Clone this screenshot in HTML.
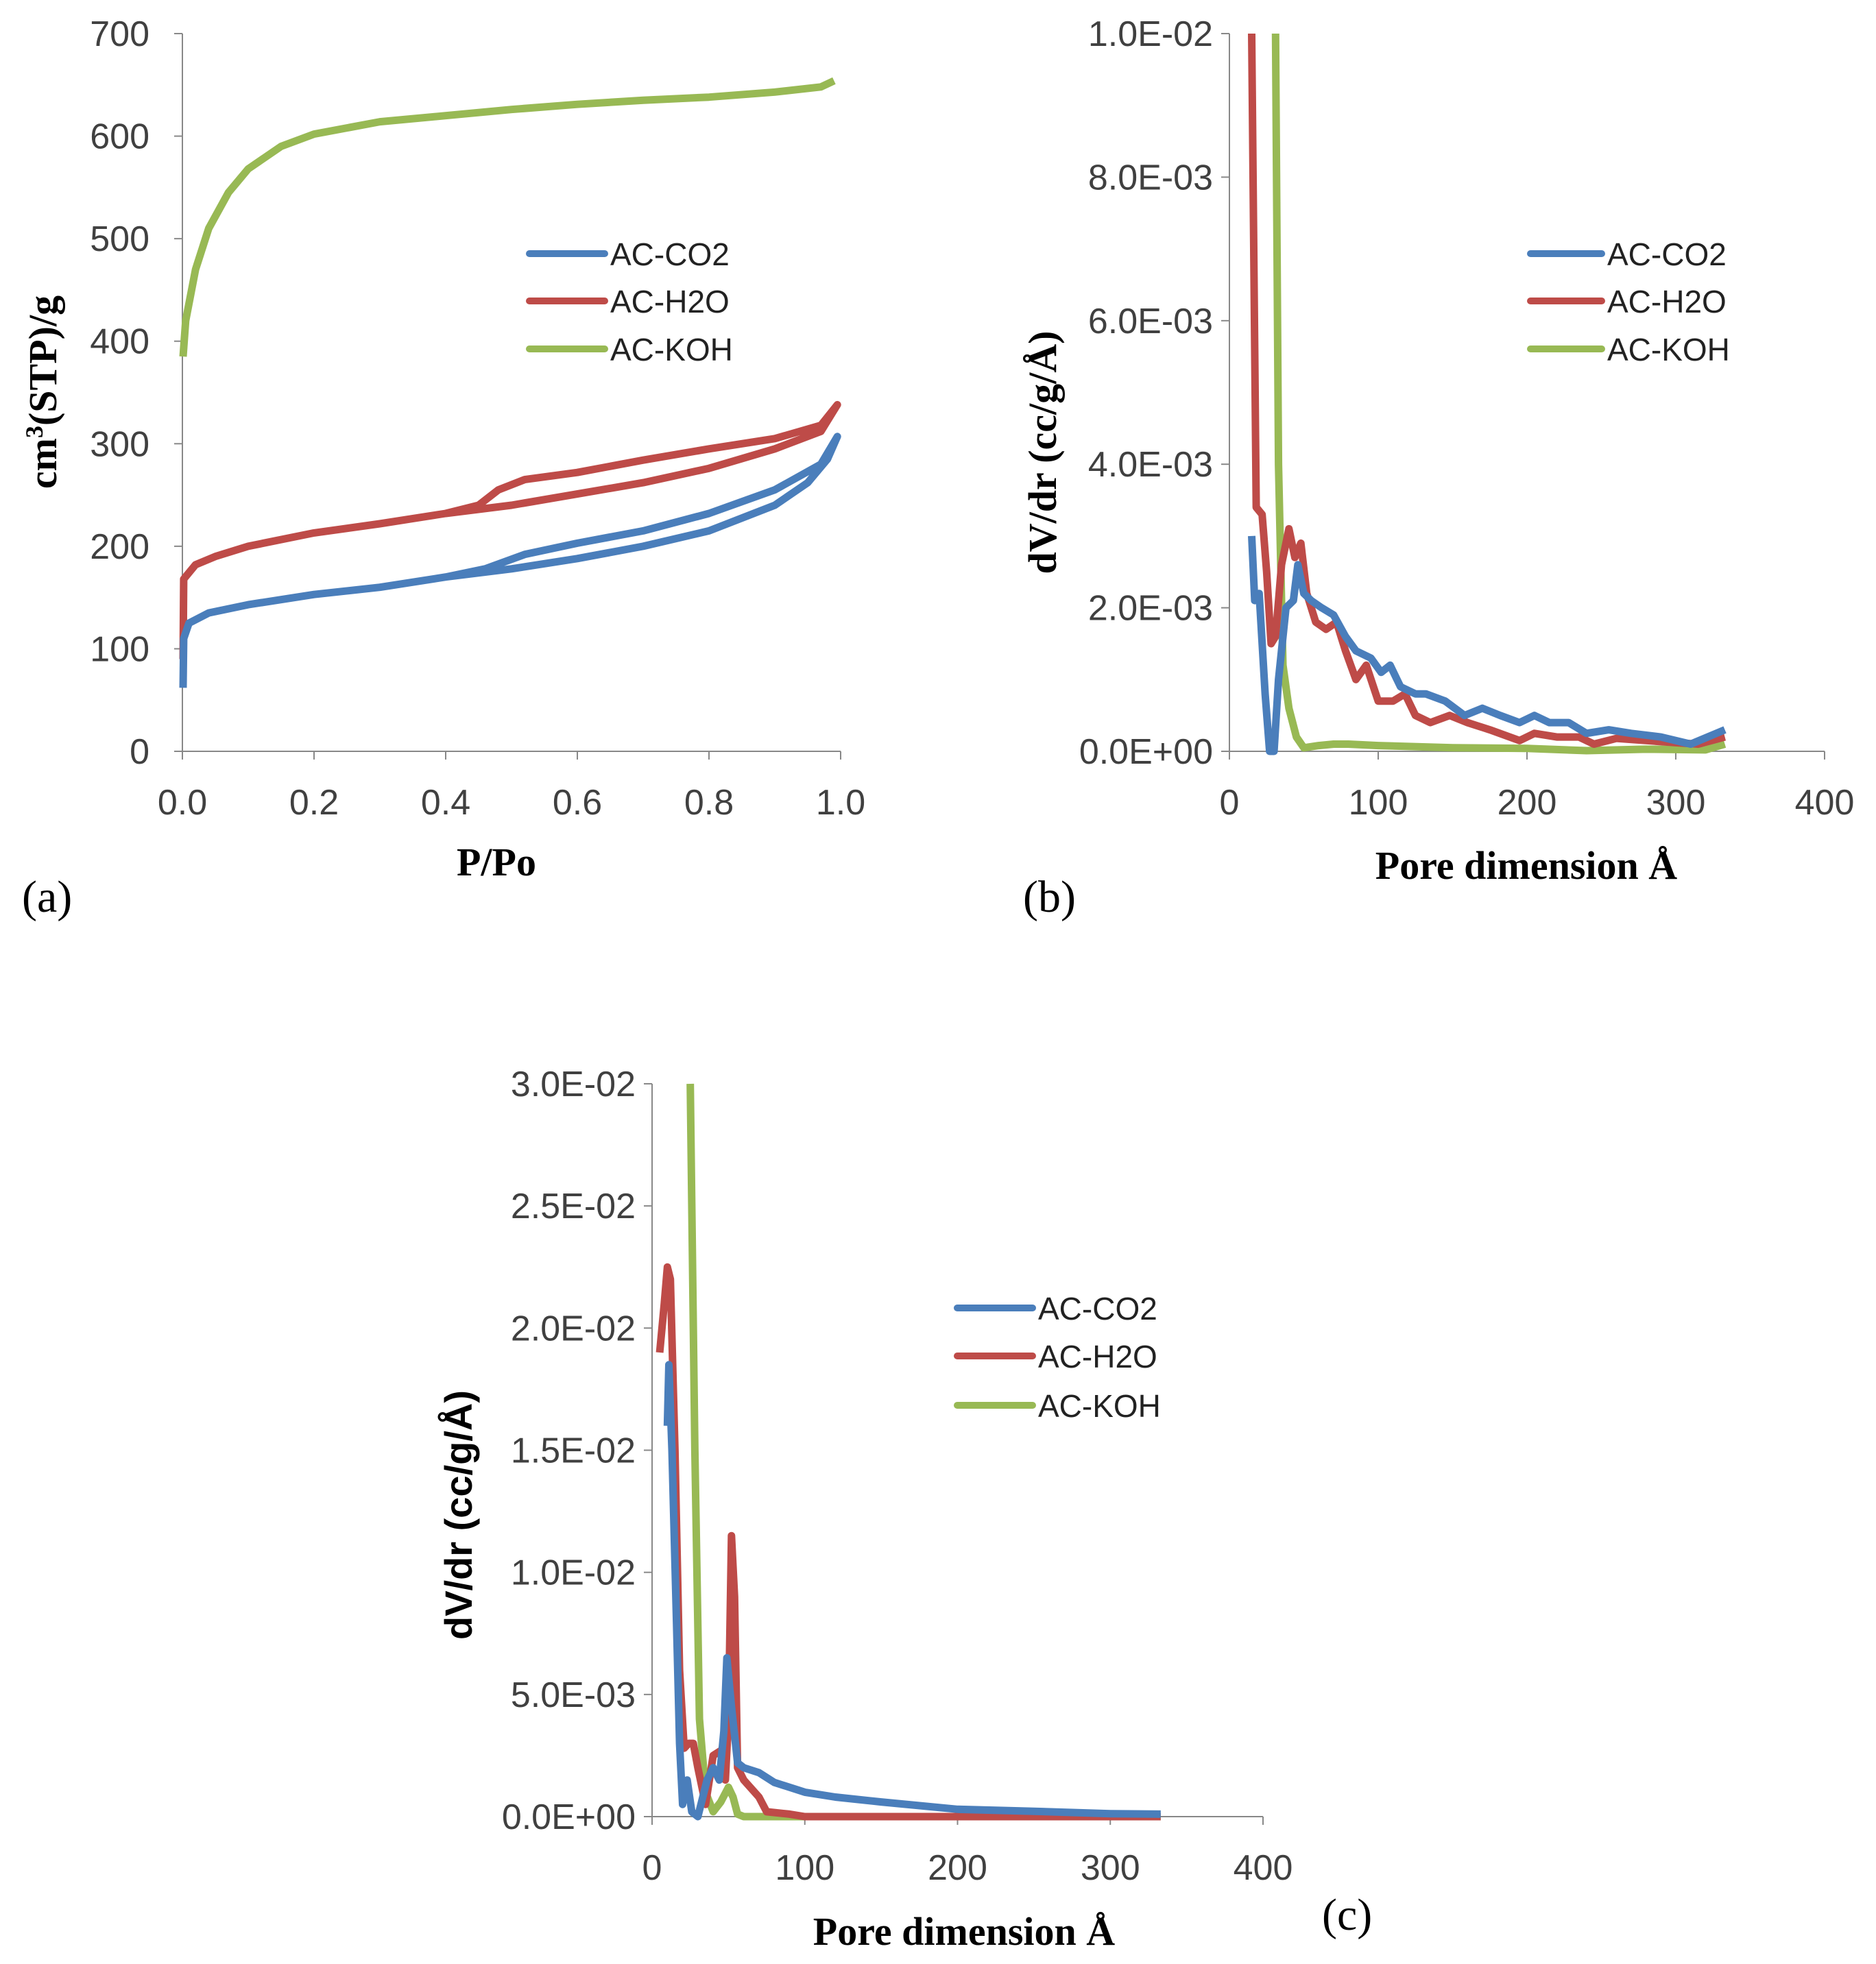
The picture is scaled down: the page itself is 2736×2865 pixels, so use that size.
<!DOCTYPE html>
<html><head><meta charset="utf-8">
<style>
html,body{margin:0;padding:0;background:#fff;}
svg{display:block;}
.tick{font-family:"Liberation Sans",sans-serif;font-size:52px;fill:#404040;}
.ttl{font-family:"Liberation Serif",serif;font-weight:bold;font-size:58px;fill:#000;}
.lbl{font-family:"Liberation Serif",serif;font-size:66px;fill:#000;}
.leg{font-family:"Liberation Sans",sans-serif;font-size:46px;fill:#222;}
</style></head>
<body>
<svg id="fig" width="2736" height="2865" viewBox="0 0 2736 2865" xmlns="http://www.w3.org/2000/svg">
<text class="lbl" x="32" y="1330">(a)</text>
<text class="lbl" x="1492" y="1330">(b)</text>
<text class="lbl" x="1928" y="2815">(c)</text>
</svg>
<script>
// Panel A data (isotherms)
const aKOHx=[0.001,0.005,0.02,0.04,0.07,0.1,0.15,0.2,0.3,0.4,0.5,0.6,0.7,0.8,0.9,0.97,0.99];
const aKOHy=[385,420,470,510,545,568,590,602,614,620,626,631,635,638,643,648,654];
const aCO2x=[0.001,0.002,0.01,0.04,0.1,0.2,0.3,0.4,0.5,0.6,0.7,0.8,0.9,0.95,0.98,0.995,0.97,0.9,0.8,0.7,0.6,0.52,0.46,0.4];
const aCO2y=[62,110,125,135,143,153,160,170,178,188,200,215,240,262,285,307,280,255,232,215,203,192,178,170];
const aH2Ox=[0.001,0.002,0.02,0.05,0.1,0.2,0.3,0.4,0.5,0.6,0.7,0.8,0.9,0.97,0.995,0.97,0.9,0.8,0.7,0.6,0.52,0.48,0.45,0.4];
const aH2Oy=[90,168,182,190,200,213,222,232,240,251,262,276,295,312,338,318,305,295,284,272,265,255,240,232];
const aXTicks=["0.0","0.2","0.4","0.6","0.8","1.0"];
const aYTicks=["0","100","200","300","400","500","600","700"];
// Panel B data
const bH2Ox=[15,18,22,25,28,31,35,40,44,48,52,58,65,72,78,85,92,100,110,118,125,135,148,160,175,195,205,220,235,245,260,280,300,315,333];
const bH2Oy=[0.01,0.0034,0.0033,0.0025,0.0015,0.0016,0.0026,0.0031,0.0027,0.0029,0.0022,0.0018,0.0017,0.0018,0.0014,0.001,0.0012,0.0007,0.0007,0.0008,0.0005,0.0004,0.0005,0.0004,0.0003,0.00015,0.00025,0.0002,0.0002,0.0001,0.00018,0.00015,0.00012,0.0001,0.0002];
const bCO2x=[15,17,20,24,27,30,33,38,43,46,50,55,62,70,78,85,95,102,108,115,125,132,145,158,170,182,195,205,215,228,240,255,270,290,310,333];
const bCO2y=[0.003,0.0021,0.0022,0.0008,0,0,0.001,0.002,0.0021,0.0026,0.0022,0.0021,0.002,0.0019,0.0016,0.0014,0.0013,0.0011,0.0012,0.0009,0.0008,0.0008,0.0007,0.0005,0.0006,0.0005,0.0004,0.0005,0.0004,0.0004,0.00025,0.0003,0.00025,0.0002,0.0001,0.0003];
const bKOHx=[31,33,36,40,45,50,60,70,80,100,150,200,240,280,320,333];
const bKOHy=[0.01,0.004,0.0012,0.0006,0.0002,0.00005,0.00008,0.0001,0.0001,0.00008,0.00005,0.00004,0.00001,0.00003,0.00002,0.0001];
const bYTicks=["0.0E+00","2.0E-03","4.0E-03","6.0E-03","8.0E-03","1.0E-02"];
const xTicks400=["0","100","200","300","400"];
// Panel C data
const cH2Ox=[5,8,10,12,15,18,21,24,27,30,35,40,45,48,50,52,54,56,60,70,75,90,100,333];
const cH2Oy=[0.019,0.021,0.0225,0.022,0.015,0.006,0.0028,0.003,0.003,0.002,0.0005,0.0025,0.0027,0.0015,0.004,0.0115,0.009,0.002,0.0015,0.0008,0.0002,0.0001,0,0];
const cCO2x=[10,11,13,16,18,20,23,26,30,36,40,44,47,49,52,56,60,70,80,100,120,150,200,250,300,333];
const cCO2y=[0.016,0.0185,0.015,0.008,0.003,0.0005,0.0015,0.0002,0,0.0015,0.002,0.0015,0.0035,0.0065,0.0045,0.0022,0.002,0.0018,0.0014,0.001,0.0008,0.0006,0.0003,0.00022,0.00012,0.0001];
const cKOHx=[25,28,31,35,40,45,50,53,56,60,333];
const cKOHy=[0.03,0.015,0.004,0.001,0.0002,0.0006,0.0012,0.0008,0.0001,0,0];
const cYTicks=["0.0E+00","5.0E-03","1.0E-02","1.5E-02","2.0E-02","2.5E-02","3.0E-02"];

const NS="http://www.w3.org/2000/svg";
const svg=document.getElementById('fig');
const BLUE="#4a7ebb",RED="#be4b48",GREEN="#98b954";
function mk(tag,attrs,parent){const e=document.createElementNS(NS,tag);for(const k in attrs)e.setAttribute(k,attrs[k]);(parent||svg).appendChild(e);return e;}

function panel(p){
  const g=mk('g',{});
  
  
  const sx=v=>p.x0+(v-p.xmin)/(p.xmax-p.xmin)*(p.x1-p.x0);
  const sy=v=>p.y0-(v-p.ymin)/(p.ymax-p.ymin)*(p.y0-p.y1);
  const ax=mk('line',{x1:p.x0,y1:p.y0,x2:p.x0,y2:p.y1,stroke:'#888','stroke-width':2},g);
  
  
  const bx=mk('line',{x1:p.x0,y1:p.y0,x2:p.x1,y2:p.y0,stroke:'#888','stroke-width':2},g);
  
  
  p.yt.forEach((t,i)=>{
    const v=p.ymin+i*(p.ymax-p.ymin)/(p.yt.length-1);const y=sy(v);
    mk('line',{x1:p.x0-12,y1:y,x2:p.x0,y2:y,stroke:'#888','stroke-width':2},g);
    const tx=mk('text',{x:p.x0-p.gap,y:y+18,'text-anchor':'end',class:'tick'},g);tx.textContent=t;
    
    
  });
  p.xt.forEach((t,i)=>{
    const v=p.xmin+i*(p.xmax-p.xmin)/(p.xt.length-1);const x=sx(v);
    mk('line',{x1:x,y1:p.y0,x2:x,y2:p.y0+12,stroke:'#888','stroke-width':2},g);
    const tx=mk('text',{x:x,y:p.y0+92,'text-anchor':'middle',class:'tick'},g);tx.textContent=t;
    
    
  });
  const xt=mk('text',{x:p.xtx,y:p.xty,'text-anchor':'middle',class:'ttl'},g);xt.innerHTML=p.xtitle;
  
  
  const yt=mk('text',{x:0,y:0,'text-anchor':'middle',class:'ttl',transform:`translate(${p.ytx},${p.yty}) rotate(-90)`,style:p.ystyle||''},g);yt.innerHTML=p.ytitle;
  
  
  const clip=mk('clipPath',{id:'c'+p.name},g);
  mk('rect',{x:p.x0-20,y:p.y1-4,width:p.x1-p.x0+40,height:p.y0-p.y1+24},clip);
  p.series.forEach(s=>{
    const d=s.x.map((v,i)=>(i?'L':'M')+sx(v).toFixed(1)+','+sy(s.y[i]).toFixed(1)).join(' ');
    const pa=mk('path',{d:d,fill:'none',stroke:s.c,'stroke-width':11,'stroke-linejoin':'round','clip-path':`url(#c${p.name})`},g);
    
    
  });
  const names=["AC-CO2","AC-H2O","AC-KOH"],cols=[BLUE,RED,GREEN];
  names.forEach((n,i)=>{
    const y=p.ly[i];
    const l=mk('line',{x1:p.lx0,y1:y,x2:p.lx1,y2:y,stroke:cols[i],'stroke-width':10,'stroke-linecap':'round'},g);
    
    
    const t=mk('text',{x:p.lx1+8,y:y+17,class:'leg'},g);t.textContent=n;
    
    
  });
}
panel({name:'chart-a',x0:266,x1:1226,y0:1096,y1:49,gap:48,xmin:0,xmax:1,ymin:0,ymax:700,xt:aXTicks,yt:aYTicks,
  xtitle:'P/Po',xtx:724,xty:1277,ytitle:'cm<tspan baseline-shift="super" font-size="36">3</tspan>(STP)/g',ytx:82,yty:572,
  series:[{x:aKOHx,y:aKOHy,c:GREEN,n:'line-ac-koh'},{x:aH2Ox,y:aH2Oy,c:RED,n:'line-ac-h2o'},{x:aCO2x,y:aCO2y,c:BLUE,n:'line-ac-co2'}],
  lx0:772,lx1:882,ly:[370,439,509]});
panel({name:'chart-b',x0:1793,x1:2661,y0:1096,y1:49,gap:24,xmin:0,xmax:400,ymin:0,ymax:0.01,xt:xTicks400,yt:bYTicks,
  xtitle:'Pore dimension Å',xtx:2226,xty:1282,ytitle:'dV/dr (cc/g/Å)',ytx:1540,yty:660,
  series:[{x:bKOHx,y:bKOHy,c:GREEN,n:'line-ac-koh'},{x:bH2Ox,y:bH2Oy,c:RED,n:'line-ac-h2o'},{x:bCO2x,y:bCO2y,c:BLUE,n:'line-ac-co2'}],
  lx0:2232,lx1:2336,ly:[370,439,509]});
panel({name:'chart-c',x0:951,x1:1842,y0:2650,y1:1581,gap:24,xmin:0,xmax:400,ymin:0,ymax:0.03,xt:xTicks400,yt:cYTicks,
  xtitle:'Pore dimension Å',xtx:1406,xty:2837,ytitle:'dV/dr (cc/g/Å)',ytx:688,yty:2210,ystyle:'font-family:"Liberation Sans",sans-serif;font-size:56px',
  series:[{x:cKOHx,y:cKOHy,c:GREEN,n:'line-ac-koh'},{x:cH2Ox,y:cH2Oy,c:RED,n:'line-ac-h2o'},{x:cCO2x,y:cCO2y,c:BLUE,n:'line-ac-co2'}],
  lx0:1396,lx1:1506,ly:[1908,1978,2050]});
</script>
</body></html>
